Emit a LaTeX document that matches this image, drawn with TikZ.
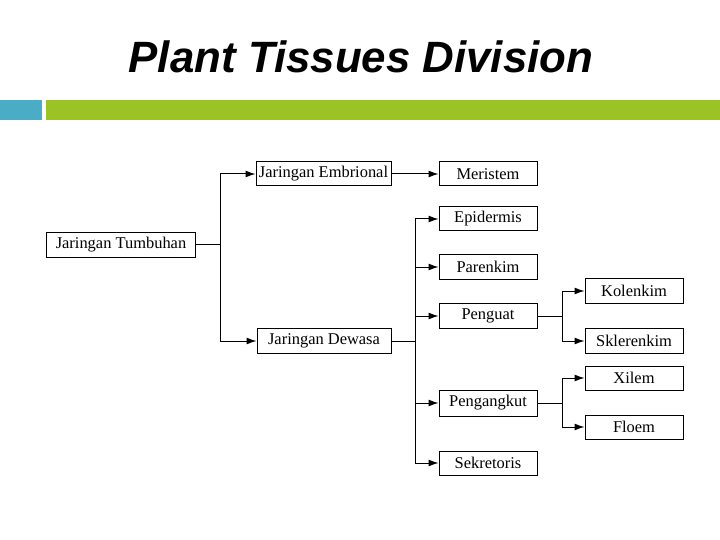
\documentclass[tikz,border=0pt]{standalone}
\usepackage{fontspec}
\setmainfont{Liberation Serif}
\newfontfamily\titlefont{Liberation Sans}
\usepackage{tikz}
\usetikzlibrary{arrows.meta}

\definecolor{barteal}{RGB}{75,172,198}
\definecolor{bargreen}{RGB}{155,195,38}

\tikzset{
  tissue/.style={draw, line width=1bp, inner sep=0pt, minimum height=24bp, font=\fontsize{16.5}{18}\selectfont},
  link/.style={line width=1bp, -{Latex[length=10bp,width=7bp]}},
  stub/.style={line width=1bp},
}

\begin{document}
\begin{tikzpicture}[x=1bp, y=-1bp]
\useasboundingbox (0,0) rectangle (720,540);

\node[name=title, anchor=base] at (361,73) {\titlefont\fontsize{44}{48}\selectfont\bfseries\itshape Plant Tissues Division};
\fill[barteal] (0,100) rectangle (42,120);
\fill[bargreen] (46,100) rectangle (720,120);

\node[name=tumbuhan, tissue, minimum width=148bp, minimum height=25bp] at (121,245) {Jaringan Tumbuhan};
\node[name=embrional, tissue, minimum width=135bp] at (323.5,174) {Jaringan Embrional};
\node[name=dewasa, tissue, minimum width=134bp, minimum height=25bp] at (324,341) {Jaringan Dewasa};
\node[name=meristem, tissue, minimum width=98bp] at (488,174) {Meristem};
\node[name=epidermis, tissue, minimum width=98bp] at (488,219) {Epidermis};
\node[name=parenkim, tissue, minimum width=98bp] at (488,267) {Parenkim};
\node[name=penguat, tissue, minimum width=98bp, minimum height=25bp] at (488,316) {Penguat};
\node[name=pengangkut, tissue, minimum width=98bp, minimum height=26bp] at (488,403) {Pengangkut};
\node[name=sekretoris, tissue, minimum width=98bp] at (488,463) {Sekretoris};
\node[name=kolenkim, tissue, minimum width=98bp, minimum height=25bp] at (634,291) {Kolenkim};
\node[name=sklerenkim, tissue, minimum width=98bp, minimum height=25bp] at (634,341) {Sklerenkim};
\node[name=xilem, tissue, minimum width=98bp] at (634,378) {Xilem};
\node[name=floem, tissue, minimum width=98bp] at (634,427) {Floem};

\coordinate (split_1) at (220,245);
\coordinate (split_2) at (415,341);
\coordinate (split_3) at (562,316);
\coordinate (split_4) at (562,403);

% first level
\draw[stub] (tumbuhan.east) -- (split_1);
\draw[link] (split_1) |- (embrional.west);
\draw[link] (split_1) |- (dewasa.west);
\draw[link] (embrional.east) -- (meristem.west);

% jaringan dewasa
\draw[stub] (dewasa.east) -- (split_2);
\foreach \kind in {epidermis, parenkim, penguat, pengangkut, sekretoris}
  \draw[link] (split_2) |- (\kind.west);

% penguat and pengangkut
\draw[stub] (penguat.east) -- (split_3);
\draw[link] (split_3) |- (kolenkim.west);
\draw[link] (split_3) |- (sklerenkim.west);
\draw[stub] (pengangkut.east) -- (split_4);
\draw[link] (split_4) |- (xilem.west);
\draw[link] (split_4) |- (floem.west);

\end{tikzpicture}
\end{document}
